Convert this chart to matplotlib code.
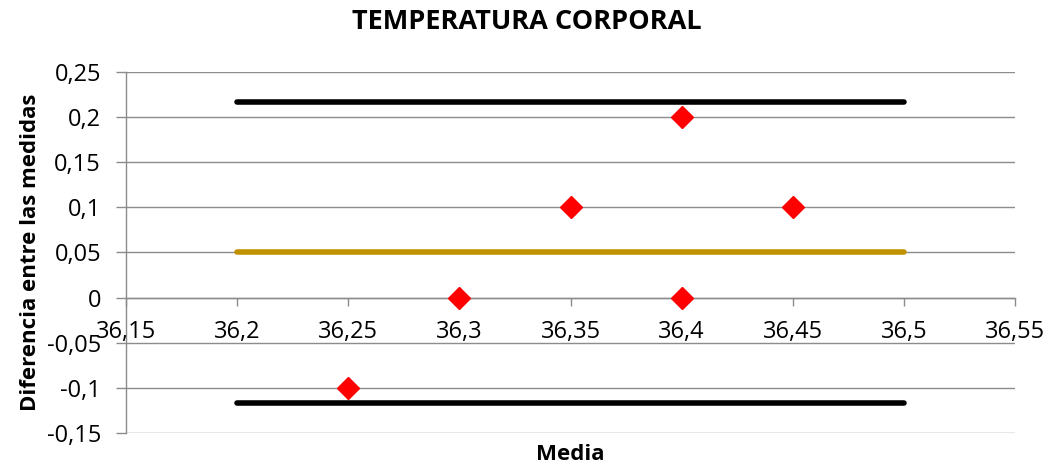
import matplotlib
matplotlib.use("Agg")
import matplotlib.pyplot as plt
from matplotlib.ticker import FuncFormatter, MultipleLocator

# Data
media = [36.25, 36.30, 36.35, 36.40, 36.40, 36.45]
diferencia = [-0.10, 0.00, 0.10, 0.20, 0.00, 0.10]
line_x = [36.2, 36.5]
media_dif = [0.05, 0.05]
lim_sup = [0.2167, 0.2167]
lim_inf = [-0.1167, -0.1167]

plt.rcParams['font.family'] = ['Open Sans', 'DejaVu Sans']

fig = plt.figure(figsize=(10.53, 4.70), dpi=100)
ax = fig.add_axes([0.1197, 0.0787, 0.8443, 0.7687])

ax.set_xlim(36.15, 36.55)
ax.set_ylim(-0.15, 0.25)
ax.xaxis.set_major_locator(MultipleLocator(0.05))
ax.yaxis.set_major_locator(MultipleLocator(0.05))

def fmt(v, pos):
    s = f"{v:.2f}".rstrip('0').rstrip('.')
    if s in ("-0", "0"):
        s = "0"
    return s.replace('.', ',')

ax.xaxis.set_major_formatter(FuncFormatter(fmt))
ax.yaxis.set_major_formatter(FuncFormatter(fmt))

ax.grid(axis='y', color='#8c8c8c', linewidth=1.0, zorder=0)
ax.set_axisbelow(True)
for s in ['top', 'right']:
    ax.spines[s].set_visible(False)
ax.spines['bottom'].set_position(('data', 0))
for s in ['bottom', 'left']:
    ax.spines[s].set_color('#8c8c8c')
    ax.spines[s].set_linewidth(1.0)
ax.tick_params(axis='both', colors='#8c8c8c', labelcolor='black', labelsize=17, width=1.0)
ax.tick_params(axis='x', length=6, pad=10)
ax.tick_params(axis='y', length=7, pad=11)

ax.plot(line_x, lim_sup, color='black', linewidth=4, solid_capstyle='round', zorder=3)
ax.plot(line_x, lim_inf, color='black', linewidth=4, solid_capstyle='round', zorder=3)
ax.plot(line_x, media_dif, color='#c09100', linewidth=4, solid_capstyle='round', zorder=3)
ax.plot(media, diferencia, linestyle='none', marker='D', markersize=11, color='#ff0000', zorder=4)

fig.text(0.5, 0.953, 'TEMPERATURA CORPORAL', ha='center', va='center', fontsize=19.5, fontweight='bold')
fig.text(0.029, 0.463, 'Diferencia entre las medidas', ha='center', va='center', rotation=90,
         fontsize=16, fontweight='bold')
fig.text(0.542, 0.032, 'Media', ha='center', va='center', fontsize=16, fontweight='bold')

fig.savefig('out.png', dpi=100)
